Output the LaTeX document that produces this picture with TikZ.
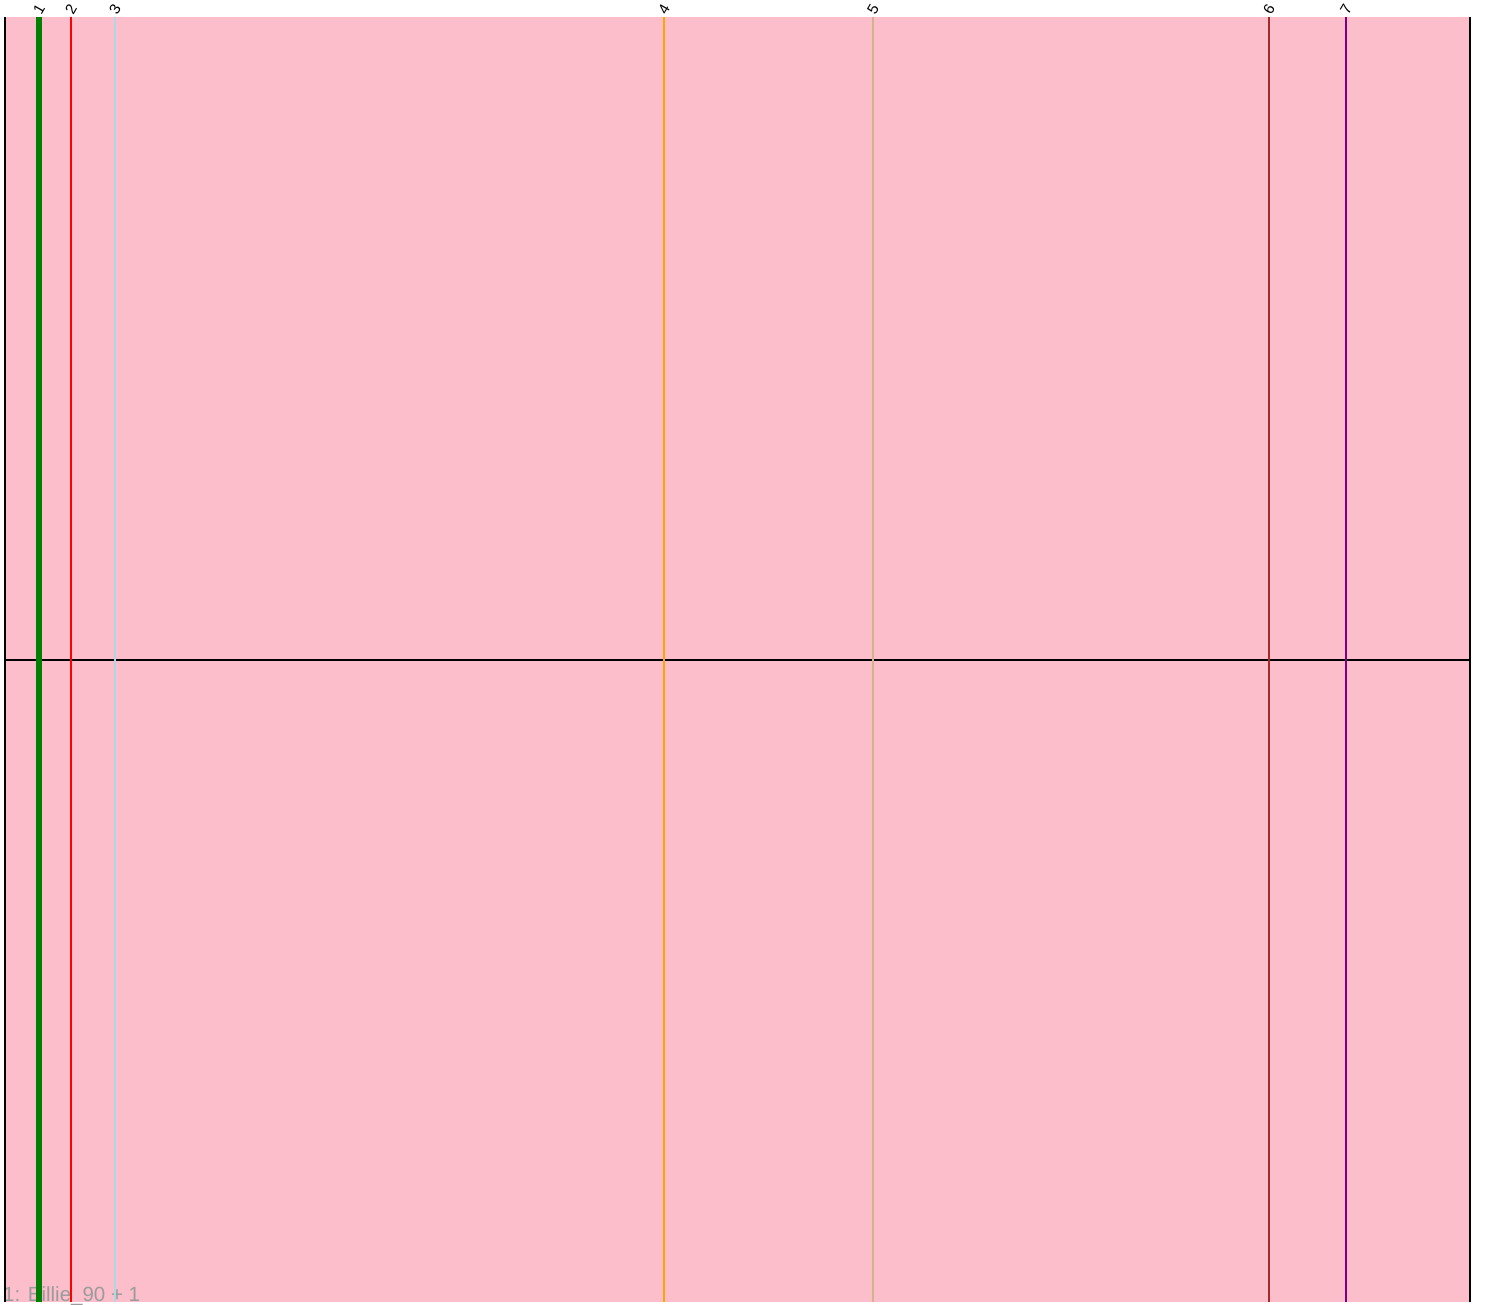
\documentclass[tikz,border=0pt]{standalone}
\usepackage{fontspec}
\setmainfont{Liberation Sans}
\usepackage{tikz}

\definecolor{bgpink}{RGB}{252,190,202}
\definecolor{lblue}{RGB}{173,216,230}
\definecolor{lorange}{RGB}{255,165,0}
\definecolor{ltan}{RGB}{210,180,140}
\definecolor{dbrown}{RGB}{165,42,42}
\definecolor{dpurple}{RGB}{128,0,128}
\definecolor{dgreen}{RGB}{0,128,0}
\definecolor{lgrey}{RGB}{155,155,155}

\begin{document}
\begin{tikzpicture}[x=1pt,y=-1pt,line cap=butt]
        \useasboundingbox (0,0) rectangle (1486,1304);

        \fill[bgpink] (5,17) rectangle (1470,1302);

        \node[anchor=base west,text=lgrey,font=\fontsize{20.5}{20.5}\selectfont,inner sep=0pt] (caption) at (3,1301) {1: Billie\_90 + 1};

        \draw[line width=2.2pt] (5,660) -- (1470,660);

        \foreach \x/\lbl/\col/\w in {39/1/dgreen/6pt,71/2/red/2.4pt,115/3/lblue/2.4pt,664/4/lorange/2.4pt,873/5/ltan/2.4pt,1269/6/dbrown/2.4pt,1346/7/dpurple/2.4pt}{
            \coordinate (top\lbl) at (\x,17);
            \coordinate (bot\lbl) at (\x,1302);
            \draw[\col,line width=\w] (top\lbl) -- (bot\lbl);
            \node[rotate=60,font=\fontsize{15}{15}\selectfont,inner sep=0pt] (lbl\lbl) at (\x,9) {\lbl};
        }

        \draw[line width=2.8pt] (5,17) -- (5,1302);
        \draw[line width=2.8pt] (1470,17) -- (1470,1302);
    \end{tikzpicture}
\end{document}
